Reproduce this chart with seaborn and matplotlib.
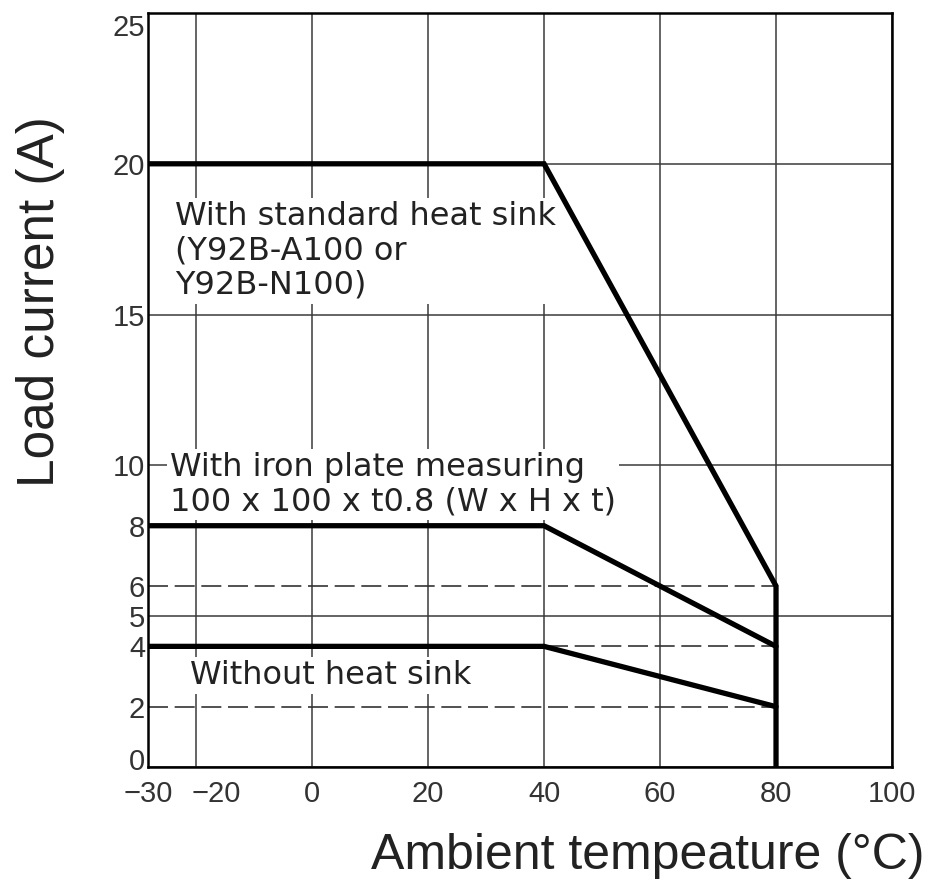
import numpy as np
import pandas as pd
import matplotlib
matplotlib.use("Agg")
import matplotlib.pyplot as plt
import matplotlib.transforms as mtransforms
import seaborn as sns

# ---- data ----
std_temp = [-30, 40, 80, 80]
std_current = [20, 20, 6, 0]
iron_temp = [-30, 40, 80]
iron_current = [8, 8, 4]
bare_temp = [-30, 40, 80]
bare_current = [4, 4, 2]

ref_levels = [6, 4, 2]          # dashed reference lines
ref_start, ref_end = -30, 80

x_ticks = [-30, -20, 0, 20, 40, 60, 80, 100]
x_tick_labels = ["\u221230", "\u221220", "0", "20", "40", "60", "80", "100"]
y_major = [0, 5, 10, 15, 20, 25]
y_minor = [2, 4, 6, 8]

label_std = "With standard heat sink\n(Y92B-A100 or\nY92B-N100)"
label_iron = "With iron plate measuring\n100 x 100 x t0.8 (W x H x t)"
label_bare = "Without heat sink"
x_title = "Ambient tempeature (\u00b0C)"
y_title = "Load current (A)"

df = pd.concat([
    pd.DataFrame({"series": "std", "temp": std_temp, "current": std_current}),
    pd.DataFrame({"series": "iron", "temp": iron_temp, "current": iron_current}),
    pd.DataFrame({"series": "bare", "temp": bare_temp, "current": bare_current}),
], ignore_index=True)

# ---- style ----
sns.set_style("white")
plt.rcParams["font.family"] = ["DejaVu Sans"]

fig = plt.figure(figsize=(9.32, 8.81), dpi=100)
ax = fig.add_axes([148 / 932, 1 - 767 / 881, 744 / 932, 754 / 881])

# the -30..-20 band is drawn compressed in the original chart
k = 0.83
def fwd(x):
    x = np.asarray(x, float)
    return np.where(x < -20, -20 + (x + 20) * k, x)
def inv(y):
    y = np.asarray(y, float)
    return np.where(y < -20, -20 + (y + 20) / k, y)
ax.set_xscale("function", functions=(fwd, inv))

# dashed reference levels
ax.hlines(ref_levels, ref_start, ref_end, colors="#333333", linewidth=1.2,
          linestyles=(0, (12, 4)), zorder=1.5)

sns.lineplot(data=df, x="temp", y="current", hue="series",
             palette={"std": "black", "iron": "black", "bare": "black"},
             estimator=None, sort=False, legend=False, linewidth=3.8,
             ax=ax, zorder=3)
for ln in ax.lines:
    ln.set_solid_joinstyle("miter")

ax.set_xlim(-30, 100)
ax.set_ylim(0, 25)
ax.set_xticks(x_ticks, labels=x_tick_labels)
ax.set_yticks(y_major)
ax.set_yticks(y_minor, minor=True)
ax.set_yticklabels([str(v) for v in y_minor], minor=True)

tick_family = ["Liberation Sans", "DejaVu Sans"]
for lbl in ax.get_xticklabels() + ax.get_yticklabels() + ax.get_yticklabels(minor=True):
    lbl.set_fontfamily(tick_family)
    lbl.set_fontsize(21)
    lbl.set_color("#333333")

ax.tick_params(axis="both", which="both", length=0)
ax.tick_params(axis="x", pad=9)
ax.tick_params(axis="y", which="both", pad=2)

ax.grid(True, which="major", color="#3a3a3a", linewidth=1.1)
ax.set_axisbelow(True)
for sp in ax.spines.values():
    sp.set_visible(True)
    sp.set_color("black")
    sp.set_linewidth(1.8)

def nudge(lbl, dx_px, dy_px):
    lbl.set_transform(lbl.get_transform() +
                      mtransforms.ScaledTranslation(dx_px / 100, dy_px / 100,
                                                    fig.dpi_scale_trans))

# label placement quirks of the original drawing
nudge(ax.get_xticklabels()[1], 20, 0)     # "-20" pushed right
ylbls = ax.get_yticklabels()
nudge(ylbls[0], 0, 8)                     # "0" raised
nudge(ylbls[-1], 0, -12)                  # "25" lowered

box = dict(facecolor="white", edgecolor="none", pad=2)
ax.text(0.0363, 0.7507, label_std, transform=ax.transAxes, fontsize=23,
        ha="left", va="top", linespacing=1.14, color="#222222", bbox=box, zorder=2.5)
ax.text(0.0296, 0.4178, label_iron, transform=ax.transAxes, fontsize=23,
        ha="left", va="top", linespacing=1.14, color="#222222", bbox=box, zorder=2.5)
ax.text(0.0565, 0.142, label_bare, transform=ax.transAxes, fontsize=23,
        ha="left", va="top", color="#222222", bbox=box, zorder=2.5)

ax.set_xlabel(x_title, fontsize=36, family=["Liberation Sans", "DejaVu Sans"], color="#222222")
ax.set_ylabel(y_title, fontsize=37, family=["Liberation Sans", "DejaVu Sans"], color="#222222")
ax.xaxis.set_label_coords(0.672, -0.087)
ax.yaxis.set_label_coords(-0.112, 0.617)

fig.savefig("out.png", dpi=100, facecolor="white")
